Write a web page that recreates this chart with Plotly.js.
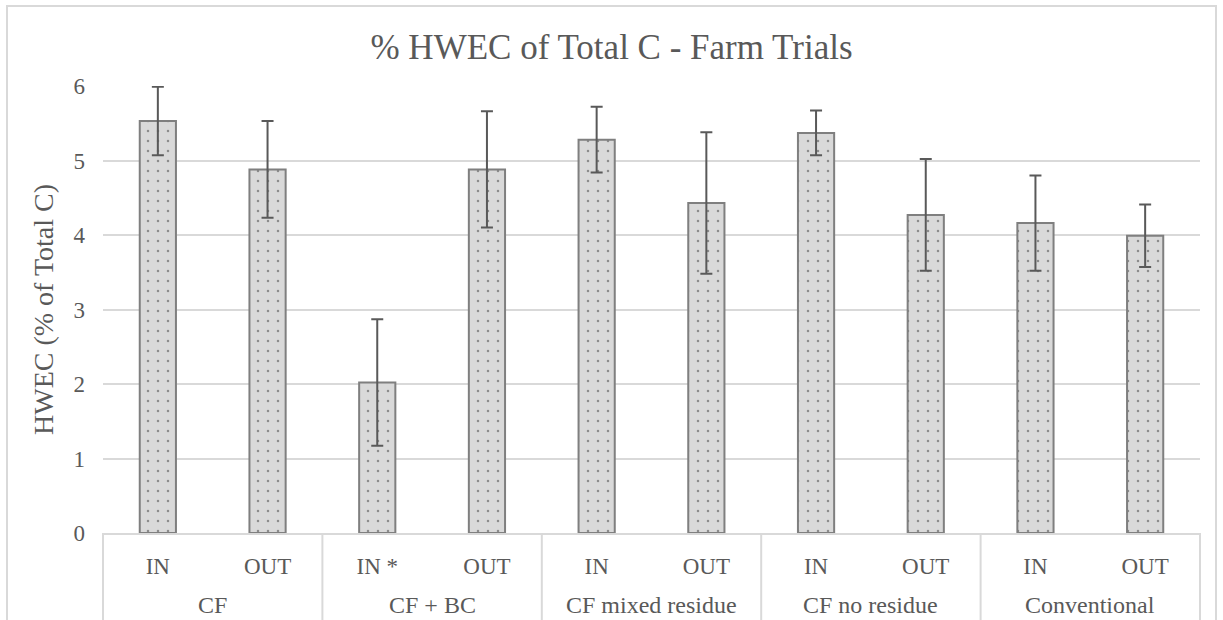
<!DOCTYPE html>
<html>
<head>
<meta charset="utf-8">
<script src="https://cdn.plot.ly/plotly-3.0.1.min.js"></script>
<style>html,body{margin:0;padding:0;background:#fff;}#chart{width:1223px;height:620px;}</style>
</head>
<body>
<div id="chart"></div>
<script>
var groups = ["CF", "CF", "CF + BC", "CF + BC", "CF mixed residue", "CF mixed residue", "CF no residue", "CF no residue", "Conventional", "Conventional"];
var treatments = ["IN", "OUT", "IN *", "OUT", "IN", "OUT", "IN", "OUT", "IN", "OUT"];
var hwec = [5.53, 4.88, 2.02, 4.88, 5.28, 4.43, 5.37, 4.27, 4.16, 3.99];
var errors = [0.46, 0.65, 0.85, 0.78, 0.44, 0.95, 0.30, 0.75, 0.64, 0.42];
var yTicks = [0, 1, 2, 3, 4, 5, 6];
var groupNames = ["CF", "CF + BC", "CF mixed residue", "CF no residue", "Conventional"];

var textColor = "#595959";
var fontFamily = "Liberation Serif, Times New Roman, serif";

// unique category keys, one per bar
var keys = groups.map(function (g, i) { return g + " | " + treatments[i]; });

var trace = {
  type: "bar",
  x: keys,
  y: hwec,
  marker: {
    color: "#d9d9d9",
    line: {color: "#7f7f7f", width: 2},
    pattern: {shape: ".", fgcolor: "#8c8c8c", bgcolor: "#d9d9d9", size: 10, solidity: 0.05}
  },
  error_y: {type: "data", array: errors, visible: true, color: "#595959", thickness: 2, width: 6},
  hoverinfo: "x+y"
};

var annotations = [];
var shapes = [];
var nGroups = groupNames.length;
var perGroup = keys.length / nGroups;
groupNames.forEach(function (name, k) {
  annotations.push({
    text: name, xref: "x", yref: "paper",
    x: k * perGroup + (perGroup - 1) / 2, y: -0.161,
    xanchor: "center", yanchor: "middle", showarrow: false,
    font: {family: fontFamily, size: 24, color: textColor}
  });
});
for (var k = 0; k <= nGroups; k++) {
  shapes.push({
    type: "line", xref: "paper", yref: "paper",
    x0: k / nGroups, x1: k / nGroups, y0: 0, y1: -0.25,
    line: {color: "#d9d9d9", width: 2}
  });
}
shapes.push({
  type: "rect", xref: "paper", yref: "paper",
  x0: -0.0875, x1: 1.0146, y0: -0.3, y1: 1.179,
  line: {color: "#d9d9d9", width: 2},
  fillcolor: "rgba(0,0,0,0)",
  layer: "below"
});

var layout = {
  width: 1223,
  height: 620,
  paper_bgcolor: "#ffffff",
  plot_bgcolor: "#ffffff",
  margin: {l: 103, r: 23, t: 86, b: 87},
  showlegend: false,
  bargap: 0.67,
  font: {family: fontFamily, color: textColor, size: 23},
  title: {
    text: "% HWEC of Total C - Farm Trials",
    font: {family: fontFamily, size: 35, color: textColor},
    x: 0.5, xanchor: "center",
    y: 0.924, yanchor: "middle"
  },
  xaxis: {
    type: "category",
    tickvals: keys,
    ticktext: treatments,
    showgrid: false,
    showline: true,
    linecolor: "#d9d9d9",
    linewidth: 2,
    ticks: "",
    ticklabelstandoff: 11,
    tickfont: {family: fontFamily, size: 23, color: textColor},
    automargin: false
  },
  yaxis: {
    range: [0, 6],
    tickvals: yTicks,
    ticktext: yTicks.map(String),
    showgrid: true,
    gridcolor: "#d9d9d9",
    gridwidth: 2,
    zeroline: false,
    showline: false,
    ticks: "",
    ticklabelstandoff: 17,
    tickfont: {family: fontFamily, size: 23, color: textColor},
    title: {text: "HWEC (% of Total C)", font: {family: fontFamily, size: 28, color: textColor}, standoff: 11},
    automargin: false
  },
  annotations: annotations,
  shapes: shapes
};

Plotly.newPlot("chart", [trace], layout, {displayModeBar: false, staticPlot: true});
</script>
</body>
</html>
